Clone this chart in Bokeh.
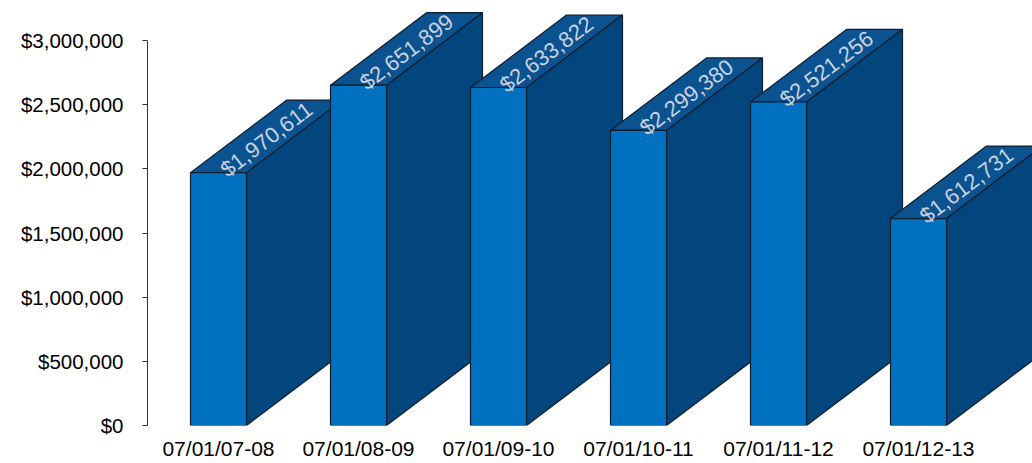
from bokeh.plotting import figure
from bokeh.models import ColumnDataSource, FixedTicker, NumeralTickFormatter, Range1d
from bokeh.core.properties import value
from bokeh.embed import file_html
from bokeh.resources import INLINE
import math

categories = ["07/01/07-08", "07/01/08-09", "07/01/09-10", "07/01/10-11", "07/01/11-12", "07/01/12-13"]
amounts = [1970611, 2651899, 2633822, 2299380, 2521256, 1612731]
labels = ["$1,970,611", "$2,651,899", "$2,633,822", "$2,299,380", "$2,521,256", "$1,612,731"]
y_ticks = [0, 500000, 1000000, 1500000, 2000000, 2500000, 3000000]

# styling constants
FRONT = "#0070C0"
SIDE = "#03467E"
TOP = "#0A5290"
EDGE = "#0f1e2e"
HALF_W = 0.2          # half width of bar front (x units)
DEPTH_X = 96 / 140    # depth offset in x units
FRAME_H = 425
Y_END = 3000000 * FRAME_H / 385
DEPTH_Y = 72.5 * Y_END / FRAME_H

p = figure(width=1032, height=463, output_backend="svg", toolbar_location=None,
           x_range=Range1d((147 - 218) / 140, (1032 - 218) / 140), y_range=Range1d(0, Y_END),
           min_border_left=147, min_border_right=0, min_border_top=0, min_border_bottom=38)
p.outline_line_color = None
p.xgrid.visible = False
p.ygrid.visible = False
p.background_fill_color = "white"
p.border_fill_color = "white"

xs, ys, colors = [], [], []
for i, v in enumerate(amounts):
    x0, x1 = i - HALF_W, i + HALF_W
    # top face
    xs.append([x0, x1, x1 + DEPTH_X, x0 + DEPTH_X])
    ys.append([v, v, v + DEPTH_Y, v + DEPTH_Y])
    colors.append(TOP)
    # side face
    xs.append([x1, x1 + DEPTH_X, x1 + DEPTH_X, x1])
    ys.append([0, DEPTH_Y, v + DEPTH_Y, v])
    colors.append(SIDE)
    # front face
    xs.append([x0, x1, x1, x0])
    ys.append([0, 0, v, v])
    colors.append(FRONT)

src = ColumnDataSource(dict(xs=xs, ys=ys, color=colors))
p.patches("xs", "ys", source=src, fill_color="color", line_color=EDGE, line_width=1.2)

angle = math.atan2(72.5, 96)
tsrc = ColumnDataSource(dict(
    x=[i + DEPTH_X / 2 for i in range(len(amounts))],
    y=[v + DEPTH_Y / 2 for v in amounts],
    t=labels))
p.text("x", "y", text="t", source=tsrc, angle=angle, text_align="center",
       text_baseline="middle", text_color="#C8D2E0", text_font=value("Liberation Sans"),
       text_font_size="22px", y_offset=3)

# y axis
ya = p.yaxis[0]
ya.ticker = FixedTicker(ticks=y_ticks)
ya.formatter = NumeralTickFormatter(format="$0,0")
ya.bounds = (0, 3000000)
ya.axis_line_color = "#333333"
ya.major_tick_line_color = "#333333"
ya.major_tick_out = 5
ya.major_tick_in = 0
ya.minor_tick_line_color = None
ya.major_label_standoff = 19
ya.major_label_text_font = "Liberation Sans"
ya.major_label_text_font_size = "20.5px"
ya.major_label_text_color = "#000000"

# x axis
xa = p.xaxis[0]
xa.ticker = FixedTicker(ticks=list(range(len(categories))))
xa.major_label_overrides = {i: c for i, c in enumerate(categories)}
xa.axis_line_color = None
xa.major_tick_line_color = None
xa.minor_tick_line_color = None
xa.major_tick_out = 0
xa.major_label_standoff = 11
xa.major_label_text_font = "Liberation Sans"
xa.major_label_text_font_size = "21px"
xa.major_label_text_color = "#000000"

open("out.html", "w").write(file_html(p, INLINE))
